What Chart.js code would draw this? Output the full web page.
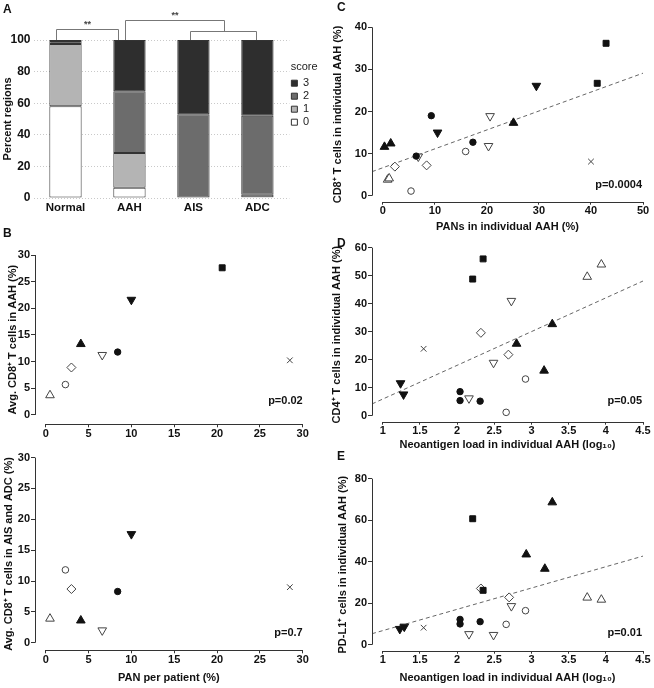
<!DOCTYPE html>
<html>
<head>
<meta charset="utf-8">
<script src="https://cdn.jsdelivr.net/npm/chart.js@4.4.1/dist/chart.umd.min.js"></script>
<style>
  html, body { margin: 0; padding: 0; background: #fff; }
  #page { position: relative; width: 654px; height: 688px; overflow: hidden; }
  .panel { position: absolute; }
  .letter { position: absolute; font: bold 12px 'Liberation Sans', Arial, sans-serif; line-height: 12px; color: #111; }
</style>
</head>
<body>
<div id="page">
  <div class="panel" style="left:0;top:0;width:319px;height:222px"><canvas id="chartA"></canvas></div>
  <div class="panel" style="left:0;top:225px;width:330px;height:225px"><canvas id="chartB1"></canvas></div>
  <div class="panel" style="left:0;top:450px;width:330px;height:238px"><canvas id="chartB2"></canvas></div>
  <div class="panel" style="left:320px;top:0;width:334px;height:235px"><canvas id="chartC"></canvas></div>
  <div class="panel" style="left:320px;top:236px;width:334px;height:218px"><canvas id="chartD"></canvas></div>
  <div class="panel" style="left:320px;top:455px;width:334px;height:233px"><canvas id="chartE"></canvas></div>
  <div class="letter" style="left:3px;top:3px">A</div>
  <div class="letter" style="left:3px;top:227px">B</div>
  <div class="letter" style="left:337px;top:1px">C</div>
  <div class="letter" style="left:337px;top:237px">D</div>
  <div class="letter" style="left:337px;top:450px">E</div>
</div>
<script>
// ---- panel A: score distribution (percent of regions) ----
const groupsA = ['Normal', 'AAH', 'AIS', 'ADC'];
const score0 = [58, 6.5, 0, 0.5];
const score1 = [39.5, 22, 0, 1.5];
const score2 = [1.8, 39, 53, 50];
const score3 = [0.7, 32.5, 47, 48];

// ---- panel B: one value per patient (marker groups 0..8) ----
const panPerPatient = [20.6, 10.0, 4.1, 8.4, 0.5, 6.6, 2.3, 3.0, 28.5];
const cd8AAH = [27.6, 21.6, 13.3, 11.8, 3.7, 11.25, 5.7, 8.9, 10.25];
const cd8Tumor = [null, 17.6, 3.6, 8.3, 3.9, 2.0, 11.8, 8.7, 9.0];

// ---- panel C: individual AAH ----
const cGroup = [0, 0, 1, 1, 2, 2, 2, 3, 3, 3, 4, 4, 5, 5, 5, 6, 6, 7, 7, 8];
const cPan = [42.9, 41.2, 10.5, 29.5, 0.3, 1.5, 25.1, 9.3, 17.3, 6.4, 0.9, 1.2, 6.8, 20.6, 20.3, 5.4, 15.9, 2.3, 8.4, 40];
const cCd8 = [36.2, 26.7, 15.0, 26.1, 11.6, 12.4, 17.3, 19.0, 12.7, 9.4, 3.8, 4.1, 9.3, 18.9, 11.8, 1.1, 10.5, 6.9, 7.2, 8.1];
const cFitX = [-2.1, 50];
const cFitY = [5.7, 29.1];

// ---- panels D and E: neoantigen load per AAH ----
const dGroup = [0, 0, 1, 1, 2, 2, 2, 3, 3, 3, 4, 4, 5, 5, 5, 6, 6, 7, 7, 8];
const dLoad = [2.35, 2.21, 1.24, 1.28, 3.28, 2.8, 3.17, 2.04, 2.04, 2.31, 3.94, 3.75, 2.73, 2.49, 2.16, 2.92, 2.66, 2.32, 2.69, 1.55];
const dCd4 = [56.0, 48.8, 11.6, 7.6, 32.7, 25.7, 16.1, 8.6, 5.4, 5.2, 54.0, 49.6, 41.0, 18.9, 6.2, 13.1, 1.2, 29.6, 21.8, 23.9];
const dFitX = [0.856, 4.5];
const dFitY = [4.2, 48.1];

const eGroup = [0, 0, 1, 1, 2, 2, 2, 3, 3, 3, 4, 4, 5, 5, 5, 6, 6, 7, 7, 8];
const eLoad = [2.21, 2.35, 1.23, 1.29, 3.28, 2.93, 3.18, 2.04, 2.04, 2.31, 3.75, 3.94, 2.73, 2.16, 2.49, 2.92, 2.66, 2.32, 2.70, 1.55];
const ePdl1 = [60.7, 26.2, 7.6, 8.7, 68.6, 43.5, 36.6, 12.2, 10.0, 11.1, 22.7, 21.7, 18.6, 5.1, 4.7, 16.4, 9.8, 27.1, 22.8, 8.2];
const eFitX = [0.856, 4.5];
const eFitY = [5.3, 42.7];

const FONT = "'Liberation Sans', Arial, Helvetica, sans-serif";
Chart.defaults.font.family = FONT;
Chart.defaults.color = '#111';
Chart.defaults.animation = false;

// one style per patient (marker shape)
const BLACK = '#111', OPEN = '#444';
const markers = [
  { pointStyle: 'rect', radius: 4.2, fill: BLACK, line: BLACK },
  { pointStyle: 'triangle', rotation: 180, radius: 5, fill: BLACK, line: BLACK },
  { pointStyle: 'triangle', radius: 5, fill: BLACK, line: BLACK },
  { pointStyle: 'circle', radius: 3.2, fill: BLACK, line: BLACK },
  { pointStyle: 'triangle', radius: 5, fill: '#fff', line: OPEN },
  { pointStyle: 'triangle', rotation: 180, radius: 5, fill: '#fff', line: OPEN },
  { pointStyle: 'circle', radius: 3.3, fill: '#fff', line: OPEN },
  { pointStyle: 'rectRot', radius: 4.5, fill: '#fff', line: OPEN },
  { pointStyle: 'crossRot', radius: 4, fill: '#fff', line: OPEN }
];

function markerDatasets(xs, ys, groups) {
  return markers.map((m, g) => ({
    data: xs.map((x, i) => ({ x: x, y: ys[i], g: groups[i] }))
            .filter(p => p.g === g && p.y !== null),
    pointStyle: m.pointStyle,
    rotation: m.rotation || 0,
    pointRadius: m.radius,
    backgroundColor: m.fill,
    borderColor: m.line,
    borderWidth: 1,
    order: 0
  }));
}

// prism-style detached axes + p value text
const prism = {
  id: 'prism',
  afterDraw(chart, args, o) {
    const { ctx, chartArea, scales: { x, y } } = chart;
    const left = Math.round(chartArea.left) + 0.5;
    const bottom = Math.round(chartArea.bottom) + 0.5;
    ctx.save();
    ctx.strokeStyle = '#333';
    ctx.lineWidth = 1;
    ctx.beginPath();
    ctx.moveTo(left, y.getPixelForValue(o.yFrom));
    ctx.lineTo(left, y.getPixelForValue(o.yTo));
    ctx.moveTo(x.getPixelForValue(o.xFrom), bottom);
    ctx.lineTo(x.getPixelForValue(o.xTo), bottom);
    ctx.stroke();
    ctx.fillStyle = '#111';
    ctx.font = 'bold 11px ' + FONT;
    ctx.textAlign = 'right';
    ctx.textBaseline = 'middle';
    ctx.fillText(o.text, chartArea.right + o.dx, chartArea.bottom - o.dy);
    ctx.restore();
  }
};

function scatterChart(id, c) {
  const fit = c.fitX ? [{
    data: c.fitX.map((x, i) => ({ x: x, y: c.fitY[i] })),
    showLine: true, pointRadius: 0, borderColor: '#666', borderWidth: 1,
    borderDash: [4, 3], order: 1
  }] : [];
  return new Chart(document.getElementById(id), {
    type: 'scatter',
    data: { datasets: fit.concat(markerDatasets(c.xs, c.ys, c.groups)) },
    options: {
      responsive: true,
      maintainAspectRatio: false,
      layout: { padding: { top: c.padTop, right: c.padRight, left: 0, bottom: 0 }, autoPadding: false },
      plugins: {
        legend: { display: false },
        tooltip: { enabled: false },
        prism: { xFrom: c.xTicks[0], xTo: c.xTicks[c.xTicks.length - 1],
                 yFrom: c.yTicks[0], yTo: c.yTicks[c.yTicks.length - 1],
                 text: c.p, dx: c.pdx, dy: c.pdy }
      },
      scales: {
        x: {
          type: 'linear', min: c.xMin, max: c.xMax,
          afterBuildTicks: a => { a.ticks = c.xTicks.map(v => ({ value: v })); },
          afterFit: s => { s.height = c.xH; },
          border: { display: false },
          grid: { drawOnChartArea: false, drawTicks: true, tickLength: 3, color: '#333' },
          ticks: { font: { size: 11, weight: 'bold' }, color: '#111', padding: 0, maxRotation: 0,
                   callback: v => String(v) },
          title: { display: !!c.xTitle, text: c.xTitle, font: { size: 11, weight: 'bold' },
                   color: '#111', padding: { top: 0, bottom: c.xTitlePad } }
        },
        y: {
          type: 'linear', min: c.yMin, max: c.yMax,
          afterBuildTicks: a => { a.ticks = c.yTicks.map(v => ({ value: v })); },
          afterFit: s => { s.width = c.yW; },
          border: { display: false },
          grid: { drawOnChartArea: false, drawTicks: true, tickLength: 4, color: '#333' },
          ticks: { font: { size: 11, weight: 'bold' }, color: '#111', padding: 1,
                   callback: v => String(v) },
          title: { display: true, text: c.yTitle, font: { size: 11, weight: 'bold' },
                   color: '#111', padding: { top: c.yTitlePad, bottom: 0 } }
        }
      }
    },
    plugins: [prism]
  });
}

// ---- A ----
const brackets = {
  id: 'brackets',
  afterDraw(chart) {
    const { ctx, scales: { x, y } } = chart;
    const top = Math.round(y.getPixelForValue(100));
    const px = (i, d) => Math.round(x.getPixelForValue(i) + d) + 0.5;
    const n = px(0, -9), a1 = px(1, -11), a2 = px(1, -4), s = px(2, -3), d = px(3, -1);
    const mid = Math.round((s + d) / 2) + 0.5;
    const path = pts => {
      ctx.beginPath();
      pts.forEach((p, k) => (k ? ctx.lineTo(p[0], p[1]) : ctx.moveTo(p[0], p[1])));
      ctx.stroke();
    };
    ctx.save();
    ctx.strokeStyle = '#777';
    ctx.lineWidth = 1;
    path([[n, top], [n, top - 10.5], [a1, top - 10.5], [a1, top]]);
    path([[s, top], [s, top - 8.5], [d, top - 8.5], [d, top]]);
    path([[a2, top], [a2, top - 19.5], [mid, top - 19.5], [mid, top - 8.5]]);
    ctx.fillStyle = '#444';
    ctx.font = 'bold 9px ' + FONT;
    ctx.textAlign = 'center';
    ctx.textBaseline = 'middle';
    ctx.fillText('**', (n + a1) / 2, top - 15);
    ctx.fillText('**', (a2 + mid) / 2, top - 24);
    ctx.restore();
  }
};

const barStyle = { borderColor: '#333', borderWidth: 1, borderSkipped: false,
                   categoryPercentage: 1, barPercentage: 0.505 };
new Chart(document.getElementById('chartA'), {
  type: 'bar',
  data: {
    labels: groupsA,
    datasets: [
      Object.assign({ label: '0', data: score0, backgroundColor: '#ffffff' }, barStyle),
      Object.assign({ label: '1', data: score1, backgroundColor: '#b4b4b4' }, barStyle),
      Object.assign({ label: '2', data: score2, backgroundColor: '#6c6c6c' }, barStyle),
      Object.assign({ label: '3', data: score3, backgroundColor: '#2e2e2e' }, barStyle)
    ]
  },
  options: {
    responsive: true,
    maintainAspectRatio: false,
    layout: { padding: { top: 40, right: 0, left: 0, bottom: 0 }, autoPadding: false },
    plugins: {
      tooltip: { enabled: false },
      legend: {
        position: 'right',
        align: 'start',
        reverse: true,
        title: { display: true, text: 'score', color: '#222', font: { size: 11 },
                 padding: { top: 21.5, bottom: 1 } },
        labels: { boxWidth: 6, boxHeight: 6, padding: 2, color: '#222',
                  font: { size: 11, lineHeight: 1.1 } }
      }
    },
    scales: {
      x: {
        stacked: true,
        afterFit: s => { s.height = 24; },
        grid: { display: false, drawTicks: false },
        border: { display: false },
        ticks: { font: { size: 11.5, weight: 'bold' }, color: '#111', padding: 3 }
      },
      y: {
        stacked: true, min: 0, max: 100,
        afterFit: s => { s.width = 33.5; },
        grid: { color: '#c9c9c9', drawTicks: false },
        border: { display: false, dash: [1, 2] },
        ticks: { stepSize: 20, font: { size: 12, weight: 'bold' }, color: '#111', padding: 3 },
        title: { display: true, text: 'Percent regions', font: { size: 11, weight: 'bold' },
                 color: '#111', padding: { top: 1, bottom: 0 } }
      }
    }
  },
  plugins: [brackets]
});

// ---- B ----
scatterChart('chartB1', {
  xs: panPerPatient, ys: cd8AAH, groups: [0, 1, 2, 3, 4, 5, 6, 7, 8],
  xMin: -1.25, xMax: 30, yMin: -1.75, yMax: 30,
  xTicks: [0, 5, 10, 15, 20, 25, 30], yTicks: [0, 5, 10, 15, 20, 25, 30],
  padTop: 30, padRight: 27.3, yW: 35, xH: 25.7,
  yTitle: 'Avg. CD8\u207A T cells in AAH (%)', yTitlePad: 6.1,
  p: 'p=0.02', pdx: 0, pdy: 23.6
});
scatterChart('chartB2', {
  xs: panPerPatient, ys: cd8Tumor, groups: [0, 1, 2, 3, 4, 5, 6, 7, 8],
  xMin: -1.25, xMax: 30, yMin: -1.23, yMax: 30,
  xTicks: [0, 5, 10, 15, 20, 25, 30], yTicks: [0, 5, 10, 15, 20, 25, 30],
  padTop: 7.3, padRight: 27.3, yW: 35, xH: 37.7,
  xTitle: 'PAN per patient (%)', xTitlePad: 3.4,
  yTitle: 'Avg. CD8\u207A T cells in AIS and ADC (%)', yTitlePad: 2.7,
  p: 'p=0.7', pdx: 0, pdy: 17.6
});

// ---- C, D, E ----
scatterChart('chartC', {
  xs: cPan, ys: cCd8, groups: cGroup, fitX: cFitX, fitY: cFitY,
  xMin: -2.1, xMax: 50, yMin: -1.43, yMax: 40,
  xTicks: [0, 10, 20, 30, 40, 50], yTicks: [0, 10, 20, 30, 40],
  padTop: 27.3, padRight: 11, yW: 52, xH: 33.3,
  xTitle: 'PANs in individual AAH (%)', xTitlePad: 1.7,
  yTitle: 'CD8\u207A T cells in individual AAH (%)', yTitlePad: 11.7,
  p: 'p=0.0004', pdx: -1, pdy: 16.7
});
scatterChart('chartD', {
  xs: dLoad, ys: dCd4, groups: dGroup, fitX: dFitX, fitY: dFitY,
  xMin: 0.856, xMax: 4.5, yMin: -2.14, yMax: 60,
  xTicks: [1, 1.5, 2, 2.5, 3, 3.5, 4, 4.5], yTicks: [0, 10, 20, 30, 40, 50, 60],
  padTop: 11.7, padRight: 11, yW: 52, xH: 32.3,
  xTitle: 'Neoantigen load in individual AAH (log\u2081\u2080)', xTitlePad: 2.4,
  yTitle: 'CD4\u207A T cells in individual AAH (%)', yTitlePad: 10.1,
  p: 'p=0.05', pdx: -1, pdy: 21
});
scatterChart('chartE', {
  xs: eLoad, ys: ePdl1, groups: eGroup, fitX: eFitX, fitY: eFitY,
  xMin: 0.856, xMax: 4.5, yMin: -2.89, yMax: 80,
  xTicks: [1, 1.5, 2, 2.5, 3, 3.5, 4, 4.5], yTicks: [0, 20, 40, 60, 80],
  padTop: 23.7, padRight: 11, yW: 52, xH: 37.3,
  xTitle: 'Neoantigen load in individual AAH (log\u2081\u2080)', xTitlePad: 3.1,
  yTitle: 'PD-L1\u207A cells in individual AAH (%)', yTitlePad: 16.7,
  p: 'p=0.01', pdx: -1, pdy: 18
});
</script>
</body>
</html>
